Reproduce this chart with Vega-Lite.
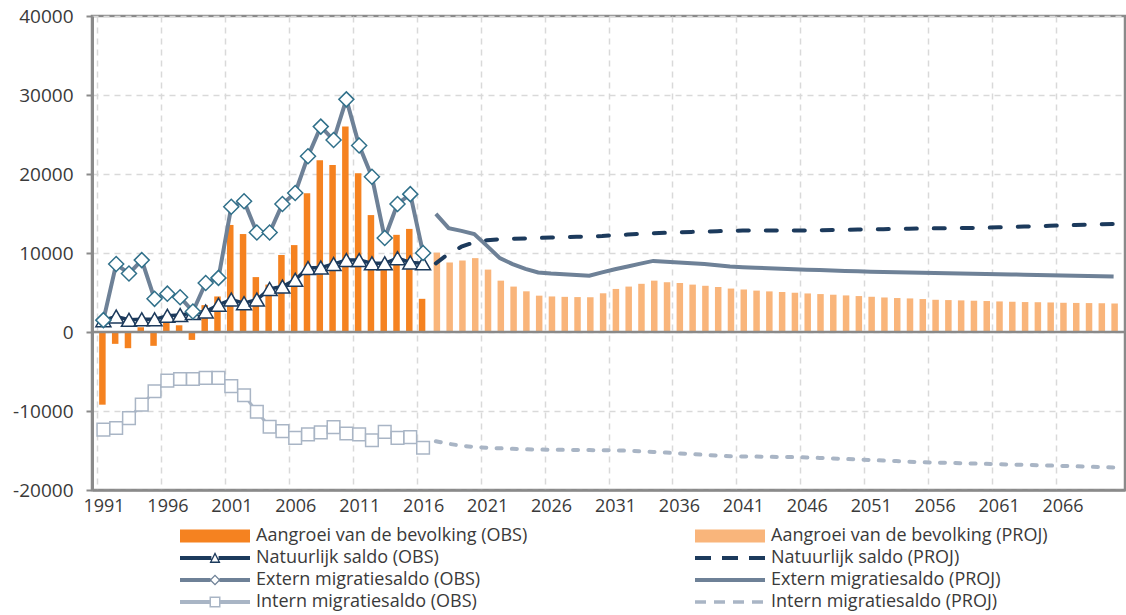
{
  "$schema": "https://vega.github.io/schema/vega-lite/v6.json",
  "width": 1033,
  "height": 474,
  "autosize": {"type": "none"},
  "padding": {"left": 92, "top": 16, "right": 1, "bottom": 125},
  "background": "white",
  "config": {
    "font": "Open Sans",
    "view": {"stroke": "#8A8A8A", "strokeWidth": 2.5},
    "axis": {
      "labelFont": "Open Sans",
      "labelFontSize": 18,
      "labelColor": "#3A3A3A",
      "domainColor": "#8A8A8A",
      "gridColor": "#D9D9D9",
      "gridDash": [6, 5],
      "gridWidth": 1.5,
      "tickColor": "#8A8A8A"
    },
    "legend": {
      "labelFont": "Open Sans",
      "labelFontSize": 18,
      "labelColor": "#3A3A3A",
      "symbolSize": 4,
      "symbolStrokeWidth": 0,
      "symbolOpacity": 1,
      "labelOffset": -2,
      "rowPadding": 4,
      "labelLimit": 500
    }
  },
  "datasets": {
    "main": [
      {"year": 1991, "p": "OBS", "g": -9200, "n": 1500, "e": 1500, "i": -12350},
      {"year": 1992, "p": "OBS", "g": -1500, "n": 1950, "e": 8600, "i": -12150},
      {"year": 1993, "p": "OBS", "g": -2050, "n": 1550, "e": 7400, "i": -10900},
      {"year": 1994, "p": "OBS", "g": 600, "n": 1600, "e": 9100, "i": -9200},
      {"year": 1995, "p": "OBS", "g": -1750, "n": 1600, "e": 4200, "i": -7500},
      {"year": 1996, "p": "OBS", "g": 1150, "n": 2050, "e": 4850, "i": -6150},
      {"year": 1997, "p": "OBS", "g": 850, "n": 2150, "e": 4400, "i": -5950},
      {"year": 1998, "p": "OBS", "g": -1000, "n": 2400, "e": 2600, "i": -5950},
      {"year": 1999, "p": "OBS", "g": 3400, "n": 2600, "e": 6200, "i": -5800},
      {"year": 2000, "p": "OBS", "g": 4500, "n": 3450, "e": 6850, "i": -5800},
      {"year": 2001, "p": "OBS", "g": 13550, "n": 4100, "e": 15850, "i": -6850},
      {"year": 2002, "p": "OBS", "g": 12400, "n": 3650, "e": 16550, "i": -8000},
      {"year": 2003, "p": "OBS", "g": 6950, "n": 4100, "e": 12600, "i": -10100},
      {"year": 2004, "p": "OBS", "g": 6000, "n": 5450, "e": 12600, "i": -12000},
      {"year": 2005, "p": "OBS", "g": 9750, "n": 5750, "e": 16200, "i": -12550},
      {"year": 2006, "p": "OBS", "g": 11000, "n": 6600, "e": 17600, "i": -13400},
      {"year": 2007, "p": "OBS", "g": 17550, "n": 8100, "e": 22250, "i": -12950},
      {"year": 2008, "p": "OBS", "g": 21750, "n": 8150, "e": 26000, "i": -12700},
      {"year": 2009, "p": "OBS", "g": 21150, "n": 8600, "e": 24300, "i": -12050},
      {"year": 2010, "p": "OBS", "g": 26000, "n": 9100, "e": 29450, "i": -12850},
      {"year": 2011, "p": "OBS", "g": 20100, "n": 9100, "e": 23600, "i": -12950},
      {"year": 2012, "p": "OBS", "g": 14800, "n": 8700, "e": 19650, "i": -13700},
      {"year": 2013, "p": "OBS", "g": 8400, "n": 8700, "e": 11900, "i": -12650},
      {"year": 2014, "p": "OBS", "g": 12300, "n": 9350, "e": 16200, "i": -13400},
      {"year": 2015, "p": "OBS", "g": 13050, "n": 8800, "e": 17450, "i": -13300},
      {"year": 2016, "p": "OBS", "g": 4200, "n": 8700, "e": 10000, "i": -14650},
      {"year": 2017, "p": "PROJ", "g": 10050, "n": 8700, "e": 14950, "i": -13830},
      {"year": 2018, "p": "PROJ", "g": 8800, "n": 9900, "e": 13150, "i": -14150},
      {"year": 2019, "p": "PROJ", "g": 9050, "n": 10800, "e": 12800, "i": -14400},
      {"year": 2020, "p": "PROJ", "g": 9350, "n": 11350, "e": 12390, "i": -14550},
      {"year": 2021, "p": "PROJ", "g": 7900, "n": 11600, "e": 10900, "i": -14650},
      {"year": 2022, "p": "PROJ", "g": 6500, "n": 11750, "e": 9350, "i": -14720},
      {"year": 2023, "p": "PROJ", "g": 5750, "n": 11800, "e": 8600, "i": -14790},
      {"year": 2024, "p": "PROJ", "g": 5150, "n": 11850, "e": 8000, "i": -14850},
      {"year": 2025, "p": "PROJ", "g": 4600, "n": 11900, "e": 7540, "i": -14880},
      {"year": 2026, "p": "PROJ", "g": 4500, "n": 11960, "e": 7400, "i": -14900},
      {"year": 2027, "p": "PROJ", "g": 4450, "n": 12000, "e": 7300, "i": -14920},
      {"year": 2028, "p": "PROJ", "g": 4420, "n": 12050, "e": 7200, "i": -14940},
      {"year": 2029, "p": "PROJ", "g": 4400, "n": 12100, "e": 7120, "i": -14950},
      {"year": 2030, "p": "PROJ", "g": 4900, "n": 12150, "e": 7550, "i": -14960},
      {"year": 2031, "p": "PROJ", "g": 5450, "n": 12250, "e": 7950, "i": -14970},
      {"year": 2032, "p": "PROJ", "g": 5750, "n": 12330, "e": 8300, "i": -15030},
      {"year": 2033, "p": "PROJ", "g": 6100, "n": 12420, "e": 8650, "i": -15100},
      {"year": 2034, "p": "PROJ", "g": 6500, "n": 12500, "e": 9000, "i": -15180},
      {"year": 2035, "p": "PROJ", "g": 6300, "n": 12560, "e": 8900, "i": -15260},
      {"year": 2036, "p": "PROJ", "g": 6200, "n": 12620, "e": 8800, "i": -15360},
      {"year": 2037, "p": "PROJ", "g": 6000, "n": 12670, "e": 8700, "i": -15450},
      {"year": 2038, "p": "PROJ", "g": 5850, "n": 12720, "e": 8600, "i": -15550},
      {"year": 2039, "p": "PROJ", "g": 5700, "n": 12760, "e": 8450, "i": -15640},
      {"year": 2040, "p": "PROJ", "g": 5500, "n": 12800, "e": 8300, "i": -15730},
      {"year": 2041, "p": "PROJ", "g": 5380, "n": 12840, "e": 8200, "i": -15750},
      {"year": 2042, "p": "PROJ", "g": 5240, "n": 12840, "e": 8130, "i": -15770},
      {"year": 2043, "p": "PROJ", "g": 5140, "n": 12840, "e": 8070, "i": -15800},
      {"year": 2044, "p": "PROJ", "g": 5060, "n": 12840, "e": 8010, "i": -15820},
      {"year": 2045, "p": "PROJ", "g": 4970, "n": 12840, "e": 7950, "i": -15840},
      {"year": 2046, "p": "PROJ", "g": 4880, "n": 12860, "e": 7890, "i": -15880},
      {"year": 2047, "p": "PROJ", "g": 4800, "n": 12890, "e": 7840, "i": -15940},
      {"year": 2048, "p": "PROJ", "g": 4720, "n": 12920, "e": 7790, "i": -16000},
      {"year": 2049, "p": "PROJ", "g": 4630, "n": 12940, "e": 7730, "i": -16070},
      {"year": 2050, "p": "PROJ", "g": 4550, "n": 12970, "e": 7680, "i": -16130},
      {"year": 2051, "p": "PROJ", "g": 4460, "n": 13000, "e": 7640, "i": -16200},
      {"year": 2052, "p": "PROJ", "g": 4370, "n": 13020, "e": 7600, "i": -16270},
      {"year": 2053, "p": "PROJ", "g": 4300, "n": 13050, "e": 7560, "i": -16340},
      {"year": 2054, "p": "PROJ", "g": 4250, "n": 13070, "e": 7520, "i": -16420},
      {"year": 2055, "p": "PROJ", "g": 4170, "n": 13100, "e": 7490, "i": -16480},
      {"year": 2056, "p": "PROJ", "g": 4080, "n": 13120, "e": 7460, "i": -16520},
      {"year": 2057, "p": "PROJ", "g": 4040, "n": 13140, "e": 7430, "i": -16560},
      {"year": 2058, "p": "PROJ", "g": 4000, "n": 13160, "e": 7400, "i": -16600},
      {"year": 2059, "p": "PROJ", "g": 3960, "n": 13180, "e": 7370, "i": -16650},
      {"year": 2060, "p": "PROJ", "g": 3920, "n": 13200, "e": 7340, "i": -16690},
      {"year": 2061, "p": "PROJ", "g": 3870, "n": 13250, "e": 7310, "i": -16730},
      {"year": 2062, "p": "PROJ", "g": 3830, "n": 13300, "e": 7280, "i": -16780},
      {"year": 2063, "p": "PROJ", "g": 3790, "n": 13350, "e": 7250, "i": -16820},
      {"year": 2064, "p": "PROJ", "g": 3770, "n": 13400, "e": 7220, "i": -16860},
      {"year": 2065, "p": "PROJ", "g": 3740, "n": 13440, "e": 7190, "i": -16900},
      {"year": 2066, "p": "PROJ", "g": 3700, "n": 13490, "e": 7160, "i": -16950},
      {"year": 2067, "p": "PROJ", "g": 3680, "n": 13540, "e": 7130, "i": -17000},
      {"year": 2068, "p": "PROJ", "g": 3660, "n": 13590, "e": 7100, "i": -17050},
      {"year": 2069, "p": "PROJ", "g": 3640, "n": 13640, "e": 7070, "i": -17100},
      {"year": 2070, "p": "PROJ", "g": 3620, "n": 13680, "e": 7040, "i": -17140}
    ],
    "lgA": [
      {"s": "Aangroei van de bevolking (OBS)"},
      {"s": "Natuurlijk saldo (OBS)"},
      {"s": "Extern migratiesaldo (OBS)"},
      {"s": "Intern migratiesaldo (OBS)"}
    ],
    "lgB": [
      {"s": "Aangroei van de bevolking (PROJ)"},
      {"s": "Natuurlijk saldo (PROJ)"},
      {"s": "Extern migratiesaldo (PROJ)"},
      {"s": "Intern migratiesaldo (PROJ)"}
    ]
  },
  "layer": [
    {
      "data": {"name": "main"},
      "transform": [{"filter": "datum.p == 'OBS'"}],
      "mark": {"type": "bar", "orient": "vertical", "width": 6.5, "xOffset": -1, "color": "#F58220"},
      "encoding": {
        "x": {
          "field": "year", "type": "quantitative", "title": null,
          "scale": {"domain": [1990.5, 2070.5], "nice": false, "zero": false},
          "axis": {
            "title": null,
            "values": [1990.5, 1995.5, 2000.5, 2005.5, 2010.5, 2015.5, 2020.5, 2025.5, 2030.5, 2035.5, 2040.5, 2045.5, 2050.5, 2055.5, 2060.5, 2065.5],
            "labelExpr": "format(datum.value + 0.5, 'd')",
            "labelOffset": 6.5,
            "labelFlush": false,
            "labelOverlap": false,
            "labelPadding": 7,
            "ticks": false,
            "grid": true,
            "domainWidth": 2.5
          }
        },
        "y": {
          "field": "g", "type": "quantitative", "title": null,
          "scale": {"domain": [-20000, 40000], "nice": false, "zero": false},
          "axis": {
            "title": null,
            "values": [-20000, -10000, 0, 10000, 20000, 30000, 40000],
            "labelExpr": "'' + datum.value",
            "labelFontSize": 19,
            "grid": true,
            "tickSize": 6,
            "tickWidth": 2,
            "labelPadding": 13,
            "domainWidth": 3
          }
        }
      }
    },
    {
      "data": {"name": "main"},
      "transform": [{"filter": "datum.p == 'PROJ'"}],
      "mark": {"type": "bar", "orient": "vertical", "width": 6.5, "xOffset": 1, "color": "#F9B57B"},
      "encoding": {
        "x": {"field": "year", "type": "quantitative", "title": null, "scale": {"domain": [1990.5, 2070.5], "nice": false, "zero": false}},
        "y": {"field": "g", "type": "quantitative", "title": null, "scale": {"domain": [-20000, 40000], "nice": false, "zero": false}}
      }
    },
    {
      "data": {"values": [{}]},
      "mark": {"type": "rule", "color": "#8A8A8A", "strokeWidth": 2.5},
      "encoding": {"y": {"datum": 0, "type": "quantitative"}}
    },
    {
      "data": {"name": "main"},
      "transform": [{"filter": "datum.p == 'OBS'"}],
      "mark": {"type": "line", "color": "#A9B5C5", "strokeWidth": 3},
      "encoding": {
        "x": {"field": "year", "type": "quantitative", "title": null},
        "y": {"field": "i", "type": "quantitative", "title": null}
      }
    },
    {
      "data": {"name": "main"},
      "transform": [{"filter": "datum.p == 'OBS'"}],
      "mark": {"type": "point", "shape": "square", "size": 160, "filled": true, "fill": "white", "stroke": "#A9B5C5", "strokeWidth": 1.5, "opacity": 1},
      "encoding": {
        "x": {"field": "year", "type": "quantitative", "title": null},
        "y": {"field": "i", "type": "quantitative", "title": null}
      }
    },
    {
      "data": {"name": "main"},
      "transform": [{"filter": "datum.p == 'PROJ'"}],
      "mark": {"type": "line", "color": "#A9B5C5", "strokeWidth": 4, "strokeDash": [5, 10.3], "strokeCap": "round"},
      "encoding": {
        "x": {"field": "year", "type": "quantitative", "title": null},
        "y": {"field": "i", "type": "quantitative", "title": null}
      }
    },
    {
      "data": {"name": "main"},
      "transform": [{"filter": "datum.p == 'OBS'"}],
      "mark": {"type": "line", "color": "#1C3A5C", "strokeWidth": 3.5},
      "encoding": {
        "x": {"field": "year", "type": "quantitative", "title": null},
        "y": {"field": "n", "type": "quantitative", "title": null}
      }
    },
    {
      "data": {"name": "main"},
      "transform": [{"filter": "datum.p == 'OBS'"}],
      "mark": {"type": "point", "shape": "triangle-up", "size": 225, "filled": true, "fill": "white", "stroke": "#1C3A5C", "strokeWidth": 1.5, "opacity": 1},
      "encoding": {
        "x": {"field": "year", "type": "quantitative", "title": null},
        "y": {"field": "n", "type": "quantitative", "title": null}
      }
    },
    {
      "data": {"name": "main"},
      "transform": [{"filter": "datum.p == 'PROJ'"}],
      "mark": {"type": "line", "color": "#1C3A5C", "strokeWidth": 4, "strokeDash": [11, 17], "strokeCap": "round"},
      "encoding": {
        "x": {"field": "year", "type": "quantitative", "title": null},
        "y": {"field": "n", "type": "quantitative", "title": null}
      }
    },
    {
      "data": {"name": "main"},
      "transform": [{"filter": "datum.p == 'OBS'"}],
      "mark": {"type": "line", "color": "#6E8197", "strokeWidth": 4},
      "encoding": {
        "x": {"field": "year", "type": "quantitative", "title": null},
        "y": {"field": "e", "type": "quantitative", "title": null}
      }
    },
    {
      "data": {"name": "main"},
      "transform": [{"filter": "datum.p == 'OBS'"}],
      "mark": {"type": "point", "shape": "diamond", "size": 225, "filled": true, "fill": "white", "stroke": "#30708A", "strokeWidth": 1.5, "opacity": 1},
      "encoding": {
        "x": {"field": "year", "type": "quantitative", "title": null},
        "y": {"field": "e", "type": "quantitative", "title": null}
      }
    },
    {
      "data": {"name": "main"},
      "transform": [{"filter": "datum.p == 'PROJ'"}],
      "mark": {"type": "line", "color": "#6E8197", "strokeWidth": 4},
      "encoding": {
        "x": {"field": "year", "type": "quantitative", "title": null},
        "y": {"field": "e", "type": "quantitative", "title": null}
      }
    },
    {
      "data": {"name": "lgA"},
      "mark": {"type": "point", "filled": true, "opacity": 0},
      "encoding": {
        "shape": {
          "field": "s", "type": "nominal",
          "scale": {
            "domain": ["Aangroei van de bevolking (OBS)", "Natuurlijk saldo (OBS)", "Extern migratiesaldo (OBS)", "Intern migratiesaldo (OBS)"],
            "range": [
              "M-69,-6.5H1V6.5H-69Z",
              "M-69,-2H-37.6V2H-69Z M-30.4,-2H1V2H-30.4Z M-34,-6L-28.5,5H-39.5Z M-34,-3L-37.3,3.4H-30.7Z",
              "M-69,-2H-38.5V2H-69Z M-29.5,-2H1V2H-29.5Z M-34,-5.5L-28.5,0L-34,5.5L-39.5,0Z M-34,-3.7L-37.7,0L-34,3.7L-30.3,0Z",
              "M-69,-2H-39.5V2H-69Z M-28.5,-2H1V2H-28.5Z M-39.5,-5.5H-28.5V5.5H-39.5Z M-38,-4V4H-30V-4Z"
            ]
          },
          "legend": {"title": null, "orient": "none", "legendX": 148, "legendY": 511}
        },
        "color": {
          "field": "s", "type": "nominal",
          "scale": {
            "domain": ["Aangroei van de bevolking (OBS)", "Natuurlijk saldo (OBS)", "Extern migratiesaldo (OBS)", "Intern migratiesaldo (OBS)"],
            "range": ["#F58220", "#1C3A5C", "#6E8197", "#A9B5C5"]
          },
          "legend": {"title": null, "orient": "none", "legendX": 148, "legendY": 511}
        }
      }
    },
    {
      "data": {"name": "lgB"},
      "mark": {"type": "point", "filled": true, "opacity": 0},
      "encoding": {
        "shape": {
          "field": "s", "type": "nominal",
          "scale": {
            "domain": ["Aangroei van de bevolking (PROJ)", "Natuurlijk saldo (PROJ)", "Extern migratiesaldo (PROJ)", "Intern migratiesaldo (PROJ)"],
            "range": [
              "M-69,-6.5H1V6.5H-69Z",
              "M-69,-2H-53V2H-69Z M-42,-2H-26V2H-42Z M-15,-2H1V2H-15Z",
              "M-69,-2H1V2H-69Z",
              "M-69,-1.8H-58V1.8H-69Z M-50,-1.8H-39V1.8H-50Z M-31,-1.8H-20V1.8H-31Z M-12,-1.8H-1V1.8H-12Z"
            ]
          },
          "legend": {"title": null, "orient": "none", "legendX": 663, "legendY": 511}
        },
        "color": {
          "field": "s", "type": "nominal",
          "scale": {
            "domain": ["Aangroei van de bevolking (PROJ)", "Natuurlijk saldo (PROJ)", "Extern migratiesaldo (PROJ)", "Intern migratiesaldo (PROJ)"],
            "range": ["#F9B57B", "#1C3A5C", "#6E8197", "#A9B5C5"]
          },
          "legend": {"title": null, "orient": "none", "legendX": 663, "legendY": 511}
        }
      }
    }
  ],
  "resolve": {"scale": {"shape": "independent", "color": "independent"}}
}
